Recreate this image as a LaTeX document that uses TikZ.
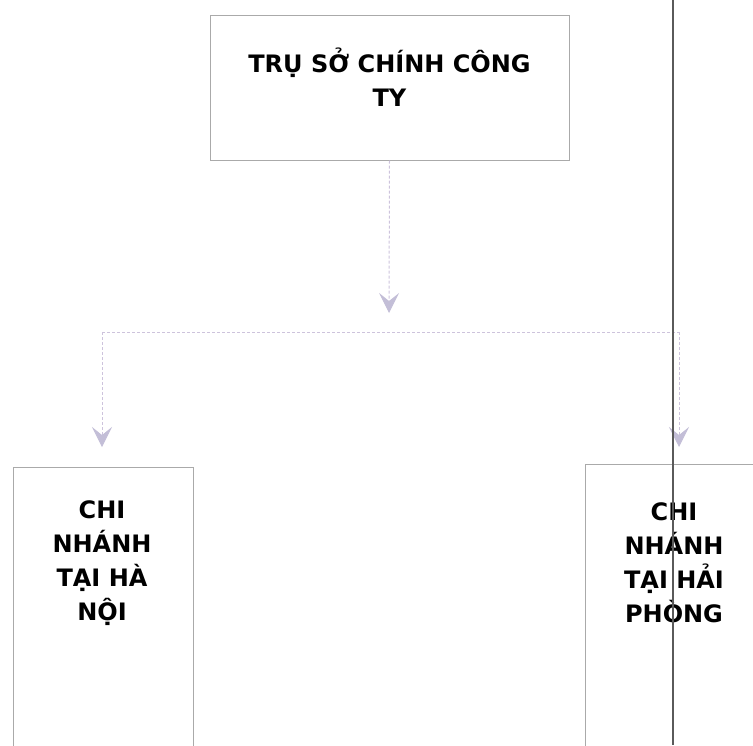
\documentclass[tikz,border=0pt]{standalone}
\usepackage{fontspec}
\setmainfont{DejaVu Sans}
\usetikzlibrary{arrows.meta}
\definecolor{boxgray}{RGB}{170,170,170}
\definecolor{linklav}{RGB}{205,195,220}
\definecolor{tiplav}{RGB}{195,190,215}
\definecolor{edgegray}{RGB}{90,90,90}
\tikzset{
  x=1pt, y=1pt,
  orgbox/.style={draw=boxgray, line width=1pt, fill=none, inner sep=0pt},
  orgtext/.style={align=center, font=\fontsize{24}{34}\selectfont\bfseries, inner sep=0pt},
  link/.style={draw=linklav, line width=1pt, densely dashed},
  linkarrow/.style={link, -{Stealth[length=20pt, width=20pt, inset=8pt, fill=tiplav, color=tiplav]}}
}
\begin{document}
\begin{tikzpicture}
\useasboundingbox (0,0) rectangle (753,-745);
\clip (0,0) rectangle (753,-745);
% boxes
\node[orgbox, minimum width=359pt, minimum height=145pt] (hq) at (389.5,-87.5) {};
\node[orgtext] (hqt) at (389.5,-77) {TRỤ SỞ CHÍNH CÔNG\\TY};
\node[orgbox, minimum width=180pt, minimum height=320pt, anchor=north west] (hn) at (13,-467) {};
\node[orgtext] (hnt) at (102,-563) {CHI\\NHÁNH\\TẠI HÀ\\NỘI};
\node[orgbox, minimum width=180pt, minimum height=320pt, anchor=north west] (hp) at (585,-464) {};
\node[orgtext] (hpt) at (674,-563) {CHI\\NHÁNH\\TẠI HẢI\\PHÒNG};
% connector coordinates
\coordinate (tipA) at (389,-313);
\coordinate (barL) at (102,-332);
\coordinate (barR) at (679,-332);
\coordinate (tipL) at (102,-447);
\coordinate (tipR) at (679,-447);
\draw[linkarrow] (hq.south) -- (tipA);
\draw[link] (barL) -- (barR);
\draw[linkarrow] (barL) -- (tipL);
\draw[linkarrow] (barR) -- (tipR);
% page edge line
\coordinate (edgeT) at (673,0);
\coordinate (edgeB) at (673,-745);
\draw[edgegray, line width=1.2pt] (edgeT) -- (edgeB);
\end{tikzpicture}
\end{document}
